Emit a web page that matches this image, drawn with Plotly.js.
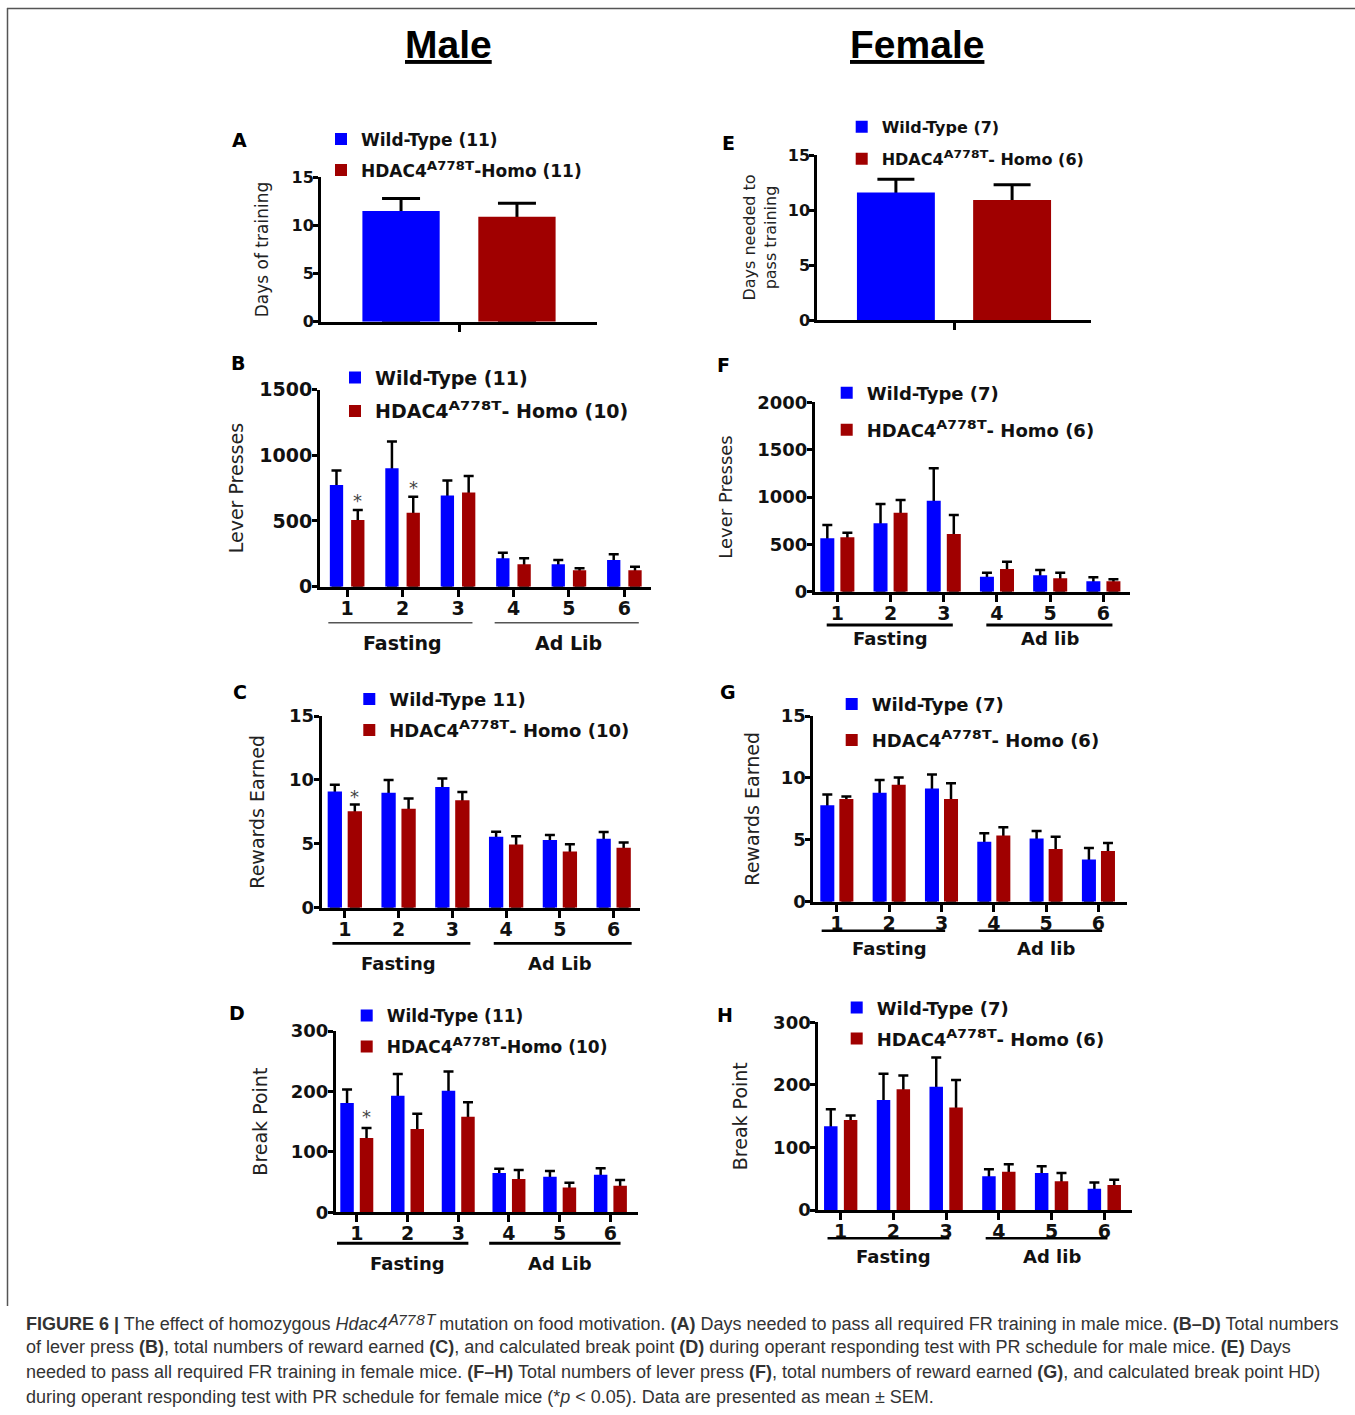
<!DOCTYPE html>
<html><head><meta charset="utf-8">
<script src="https://cdn.plot.ly/plotly-3.0.1.min.js"></script>
<style>html,body{margin:0;padding:0;background:#fff;} #chart{width:1355px;height:1415px;}</style>
</head><body><div id="chart"></div>
<script>
// ---------------- data ----------------
const sessions = ["1", "2", "3", "4", "5", "6"];
const phaseMale = ["Fasting", "Fasting", "Fasting", "Ad Lib", "Ad Lib", "Ad Lib"];
const phaseFemale = ["Fasting", "Fasting", "Fasting", "Ad lib", "Ad lib", "Ad lib"];
const trainingCat = ["FR training"];
// superscript "A778T" written with Unicode superscript characters
const SUP = '<span style="font-size:125%">\u1D2C\u2077\u2077\u2078\u1D40</span>';

// A: male days of training
const A_wt = [11.5], A_wt_sem = [1.3];
const A_ho = [10.9], A_ho_sem = [1.4];
const A_names = ["Wild-Type (11)", "HDAC4" + SUP + "-Homo (11)"];

// E: female days of training
const E_wt = [11.6], E_wt_sem = [1.2];
const E_ho = [10.9], E_ho_sem = [1.4];
const E_names = ["Wild-Type (7)", "HDAC4" + SUP + "- Homo (6)"];

// B: male lever presses
const B_wt = [774, 901, 693, 216, 170, 203];
const B_wt_sem = [109, 203, 114, 43, 33, 43];
const B_ho = [508, 563, 716, 170, 125, 125];
const B_ho_sem = [76, 122, 126, 46, 15, 27];
const B_sig = ["*", "*", "", "", "", ""];
const B_names = ["Wild-Type (11)", "HDAC4" + SUP + "- Homo (10)"];

// C: male rewards earned
const C_wt = [9.1, 9.0, 9.45, 5.55, 5.3, 5.4];
const C_wt_sem = [0.52, 1.0, 0.65, 0.39, 0.39, 0.52];
const C_ho = [7.55, 7.75, 8.4, 4.95, 4.4, 4.7];
const C_ho_sem = [0.53, 0.8, 0.65, 0.65, 0.57, 0.4];
const C_sig = ["*", "", "", "", "", ""];
const C_names = ["Wild-Type 11)", "HDAC4" + SUP + "- Homo (10)"];

// D: male break point
const D_wt = [181, 193, 201, 65, 59, 62];
const D_wt_sem = [22, 36, 32, 7, 9.5, 11];
const D_ho = [123, 138, 158, 55, 41, 44];
const D_ho_sem = [16.5, 25, 24, 15, 8, 9.5];
const D_sig = ["*", "", "", "", "", ""];
const D_names = ["Wild-Type (11)", "HDAC4" + SUP + "-Homo (10)"];

// F: female lever presses
const F_wt = [564, 722, 961, 158, 173, 110];
const F_wt_sem = [140, 204, 342, 43, 56, 42];
const F_ho = [574, 834, 609, 240, 141, 110];
const F_ho_sem = [49, 134, 201, 77, 60, 21];
const F_names = ["Wild-Type (7)", "HDAC4" + SUP + "- Homo (6)"];

// G: female rewards earned
const G_wt = [7.8, 8.8, 9.15, 4.85, 5.1, 3.4];
const G_wt_sem = [0.86, 1.03, 1.13, 0.67, 0.62, 0.94];
const G_ho = [8.3, 9.45, 8.3, 5.35, 4.25, 4.1];
const G_ho_sem = [0.19, 0.59, 1.26, 0.67, 1.0, 0.65];
const G_names = ["Wild-Type (7)", "HDAC4" + SUP + "- Homo (6)"];

// H: female break point
const H_wt = [134, 176, 197, 54, 59, 34];
const H_wt_sem = [27, 42, 47, 11, 11, 10];
const H_ho = [144, 193, 164, 61, 46, 40];
const H_ho_sem = [7, 22, 44, 12, 13, 8.5];
const H_names = ["Wild-Type (7)", "HDAC4" + SUP + "- Homo (6)"];

const columnTitles = ["Male", "Female"];
const captionLines = [
  "<b>FIGURE 6 |</b> The effect of homozygous <i>Hdac4" + SUP + "</i> mutation on food motivation. <b>(A)</b> Days needed to pass all required FR training in male mice. <b>(B–D)</b> Total numbers",
  "of lever press <b>(B)</b>, total numbers of reward earned <b>(C)</b>, and calculated break point <b>(D)</b> during operant responding test with PR schedule for male mice. <b>(E)</b> Days",
  "needed to pass all required FR training in female mice. <b>(F–H)</b> Total numbers of lever press <b>(F)</b>, total numbers of reward earned <b>(G)</b>, and calculated break point HD)",
  "during operant responding test with PR schedule for female mice (*<i>p</i> &lt; 0.05). Data are presented as mean ± SEM."
];

// ---------------- layout / styling ----------------
const W = 1355, H = 1415;
const BLUE = "#0000FF", RED = "#A00000";
const X = p => p / W;
const Y = p => 1 - p / H;

const panels = [
  {key: "A", cats: trainingCat, wt: A_wt, wtSem: A_wt_sem, ho: A_ho, hoSem: A_ho_sem, names: A_names,
   ytitle: "Days of training", ymax: 15, dtick: 5,
   g: {xl: 321, xr: 597, yt: 177.3, yb: 321.7, r0: -0.5, r1: 0.5, bo: [-0.35, 0.07], bw: 0.28, cap: 19, eth: 3,
       ytf: 16, tfs: 17, so: 19, leg: {tx: 361, y1: 139, sp: 31, fs: 17}, letter: [239, 140]}},
  {key: "B", cats: sessions, phases: phaseMale, sig: B_sig, wt: B_wt, wtSem: B_wt_sem, ho: B_ho, hoSem: B_ho_sem, names: B_names,
   ytitle: "Lever Presses", ymax: 1500, dtick: 500,
   g: {xl: 320, xr: 651, yt: 389.5, yb: 586.7, r0: -0.49, r1: 5.48, bo: [-0.3125, 0.0715], bw: 0.24, cap: 5, eth: 2.5,
       ytf: 19, xtf: 19, tfs: 19, so: 11, gpad: [-0.34, 0.26], gy: 622.7, gw: 1.5, gcol: "#555", gly: 643.3, gfs: 19, ast: -3,
       leg: {tx: 375, y1: 377.5, sp: 33.5, fs: 19}, letter: [238.3, 363.3]}},
  {key: "C", cats: sessions, phases: phaseMale, sig: C_sig, wt: C_wt, wtSem: C_wt_sem, ho: C_ho, hoSem: C_ho_sem, names: C_names,
   ytitle: "Rewards Earned", ymax: 15, dtick: 5,
   g: {xl: 321.7, xr: 640, yt: 716, yb: 907.7, r0: -0.43, r1: 5.49, bo: [-0.319, 0.053], bw: 0.266, cap: 5, eth: 2.5,
       ytf: 18, xtf: 19, tfs: 19, so: 19.5, gpad: [-0.23, 0.335], gy: 943.3, gw: 2.7, gcol: "#000", gly: 963.3, gfs: 18, ast: -5,
       leg: {tx: 389.3, y1: 699, sp: 31, fs: 18}, letter: [240, 691.7]}},
  {key: "D", cats: sessions, phases: phaseMale, sig: D_sig, wt: D_wt, wtSem: D_wt_sem, ho: D_ho, hoSem: D_ho_sem, names: D_names,
   ytitle: "Break Point", ymax: 300, dtick: 100,
   g: {xl: 336, xr: 638.3, yt: 1031, yb: 1212.3, r0: -0.41, r1: 5.55, bo: [-0.325, 0.059], bw: 0.266, cap: 5, eth: 2.5,
       ytf: 18, xtf: 19, tfs: 19, so: 18.5, gpad: [-0.39, 0.2], gy: 1243.3, gw: 3, gcol: "#000", gly: 1263.3, gfs: 18, ast: -1,
       leg: {tx: 386.7, y1: 1015.5, sp: 31, fs: 17}, letter: [236.7, 1013.3]}},
  {key: "E", cats: trainingCat, wt: E_wt, wtSem: E_wt_sem, ho: E_ho, hoSem: E_ho_sem, names: E_names,
   ytitle: "Days needed to<br>pass training", ymax: 15, dtick: 5,
   g: {xl: 817.3, xr: 1090.7, yt: 155, yb: 320, r0: -0.5, r1: 0.5, bo: [-0.355, 0.07], bw: 0.285, cap: 18.5, eth: 3,
       ytf: 16, tfs: 16, so: 8, leg: {tx: 881.7, y1: 126.7, sp: 32, fs: 16}, letter: [728.3, 143.3]}},
  {key: "F", cats: sessions, phases: phaseFemale, wt: F_wt, wtSem: F_wt_sem, ho: F_ho, hoSem: F_ho_sem, names: F_names,
   ytitle: "Lever Presses", ymax: 2000, dtick: 500,
   g: {xl: 815, xr: 1130, yt: 402.3, yb: 591.7, r0: -0.42, r1: 5.5, bo: [-0.32, 0.057], bw: 0.263, cap: 5, eth: 2.5,
       ytf: 18, xtf: 19, tfs: 18, so: 20, gpad: [-0.2, 0.17], gy: 625, gw: 3, gcol: "#000", gly: 638.3, gfs: 18,
       leg: {tx: 866.7, y1: 392.8, sp: 37, fs: 18}, letter: [723.3, 365]}},
  {key: "G", cats: sessions, phases: phaseFemale, wt: G_wt, wtSem: G_wt_sem, ho: G_ho, hoSem: G_ho_sem, names: G_names,
   ytitle: "Rewards Earned", ymax: 15, dtick: 5,
   g: {xl: 813.3, xr: 1126.7, yt: 716, yb: 901.7, r0: -0.45, r1: 5.54, bo: [-0.316, 0.048], bw: 0.268, cap: 5, eth: 2.5,
       ytf: 18, xtf: 19, tfs: 19, so: 16, gpad: [-0.29, 0.07], gy: 930.7, gw: 2.5, gcol: "#000", gly: 948.3, gfs: 18,
       leg: {tx: 871.7, y1: 704, sp: 36, fs: 18}, letter: [728.3, 691.7]}},
  {key: "H", cats: sessions, phases: phaseFemale, wt: H_wt, wtSem: H_wt_sem, ho: H_ho, hoSem: H_ho_sem, names: H_names,
   ytitle: "Break Point", ymax: 300, dtick: 100,
   g: {xl: 818.3, xr: 1131.7, yt: 1022.4, yb: 1210, r0: -0.425, r1: 5.52, bo: [-0.316, 0.06], bw: 0.256, cap: 5, eth: 2.5,
       ytf: 18, xtf: 19, tfs: 19, so: 20.5, gpad: [-0.25, 0.06], gy: 1238.3, gw: 2.5, gcol: "#000", gly: 1256.7, gfs: 18,
       leg: {tx: 876.7, y1: 1007.5, sp: 31, fs: 18}, letter: [725, 1015]}}
];

const FONT = "DejaVu Sans";
const data = [], shapes = [], annotations = [];
const layout = {
  width: W, height: H, margin: {l: 0, r: 0, t: 0, b: 0},
  paper_bgcolor: "#ffffff", plot_bgcolor: "rgba(0,0,0,0)",
  barmode: "overlay", hovermode: false, showlegend: true,
  font: {family: FONT, color: "#111"}
};

panels.forEach((p, i) => {
  const n = i + 1, sfx = n === 1 ? "" : String(n);
  const xa = "x" + sfx, ya = "y" + sfx, legId = "legend" + sfx;
  const g = p.g;

  // error bars (drawn underneath the visible bars so only the upper half shows)
  [[p.wt, p.wtSem, g.bo[0]], [p.ho, p.hoSem, g.bo[1]]].forEach(([vals, sem, off]) => {
    data.push({type: "bar", x: p.cats, y: vals, xaxis: xa, yaxis: ya, offset: off, width: g.bw,
      marker: {color: "rgba(0,0,0,0)", line: {width: 0}}, showlegend: false, hoverinfo: "skip", legend: legId,
      error_y: {type: "data", symmetric: false, array: sem, arrayminus: vals, color: "#000", thickness: g.eth, width: g.cap}});
  });
  // visible bars
  [[p.wt, BLUE, g.bo[0], p.names[0], "wt"], [p.ho, RED, g.bo[1], p.names[1], "ho"]].forEach(([vals, col, off, name, k]) => {
    data.push({type: "bar", x: p.cats, y: vals, name: name, xaxis: xa, yaxis: ya, offset: off, width: g.bw,
      marker: {color: col, line: {width: 0}}, legend: legId, legendgroup: p.key + k, hoverinfo: "skip"});
  });

  layout["xaxis" + sfx] = {
    domain: [X(g.xl), X(g.xr)], range: [g.r0, g.r1], anchor: ya, type: "category",
    showline: true, linewidth: 3, linecolor: "#000", ticks: "outside", ticklen: 7, tickwidth: 3, tickcolor: "#000",
    showgrid: false, zeroline: false, showticklabels: !!p.phases, ticklabelstandoff: -5,
    tickfont: {family: FONT, size: g.xtf || 18, weight: "bold", color: "#111"}, fixedrange: true
  };
  layout["yaxis" + sfx] = {
    domain: [Y(g.yb), Y(g.yt)], range: [0, p.ymax], anchor: xa, tick0: 0, dtick: p.dtick,
    showline: true, linewidth: 3, linecolor: "#000", ticks: "outside", ticklen: 5, tickwidth: 3, tickcolor: "#000",
    showgrid: false, zeroline: false, ticklabelstandoff: -4,
    tickfont: {family: FONT, size: g.ytf, weight: "bold", color: "#111"},
    title: {text: p.ytitle, font: {family: FONT, size: g.tfs, color: "#222"}, standoff: g.so}, fixedrange: true
  };

  const L = g.leg, lh = 1.3 * L.fs + 3;
  layout[legId] = {
    xref: "paper", yref: "paper", x: X(L.tx - 40), y: Y(L.y1 - (lh / 2 + 5)), xanchor: "left", yanchor: "top",
    bgcolor: "rgba(0,0,0,0)", borderwidth: 0, traceorder: "grouped", tracegroupgap: Math.max(0, L.sp - lh),
    font: {family: FONT, size: L.fs, weight: "bold", color: "#111"}
  };

  // panel letter
  annotations.push({xref: "paper", yref: "paper", x: X(g.letter[0]), y: Y(g.letter[1]), text: p.key, showarrow: false,
    xanchor: "center", yanchor: "middle", font: {family: FONT, size: 19, weight: "bold", color: "#000"}});

  // phase groups under the x axis
  if (p.phases) {
    const groups = [];
    p.phases.forEach((ph, j) => {
      let gr = groups.find(q => q.name === ph);
      if (!gr) { gr = {name: ph, first: j, last: j}; groups.push(gr); } else { gr.last = j; }
    });
    groups.forEach(gr => {
      shapes.push({type: "line", xref: xa, yref: "paper", x0: gr.first + g.gpad[0], x1: gr.last + g.gpad[1],
        y0: Y(g.gy), y1: Y(g.gy), line: {color: g.gcol, width: g.gw}});
      annotations.push({xref: xa, yref: "paper", x: (gr.first + gr.last) / 2, y: Y(g.gly), text: gr.name, showarrow: false,
        xanchor: "center", yanchor: "middle", font: {family: FONT, size: g.gfs, weight: "bold", color: "#111"}});
    });
  }
  // significance markers
  if (p.sig) {
    p.sig.forEach((s, j) => {
      if (!s) return;
      annotations.push({xref: xa, yref: ya, x: j + g.bo[1] + g.bw / 2, y: p.ho[j] + p.hoSem[j], text: s, showarrow: false,
        xanchor: "center", yanchor: "bottom", yshift: g.ast, font: {family: FONT, size: 18, color: "#444"}});
    });
  }
});

// column titles
[[columnTitles[0], 448], [columnTitles[1], 917]].forEach(([t, cx]) => {
  annotations.push({xref: "paper", yref: "paper", x: X(cx), y: Y(44), text: "<u>" + t + "</u>", showarrow: false,
    xanchor: "center", yanchor: "middle", font: {family: "Liberation Sans", size: 39, weight: "bold", color: "#000"}});
});

// caption
const capY = [1322, 1347, 1372, 1397];
captionLines.forEach((t, k) => {
  annotations.push({xref: "paper", yref: "paper", x: X(24), y: Y(capY[k]), text: t, showarrow: false,
    xanchor: "left", yanchor: "middle", align: "left", font: {family: "Liberation Sans", size: 18, color: "#333"}});
});

// figure frame (top and left edges)
shapes.push({type: "line", xref: "paper", yref: "paper", x0: X(7), x1: 1, y0: Y(8.5), y1: Y(8.5), line: {color: "#555", width: 1.5}});
shapes.push({type: "line", xref: "paper", yref: "paper", x0: X(7.5), x1: X(7.5), y0: Y(8), y1: Y(1306), line: {color: "#555", width: 1.5}});

layout.shapes = shapes;
layout.annotations = annotations;

Plotly.newPlot("chart", data, layout, {staticPlot: true, displayModeBar: false});
</script>
</body></html>
